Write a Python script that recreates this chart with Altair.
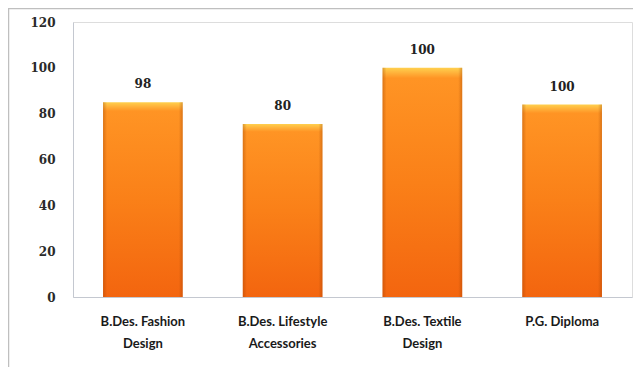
import altair as alt
import pandas as pd

categories = ["B.Des. Fashion Design", "B.Des. Lifestyle Accessories", "B.Des. Textile Design", "P.G. Diploma"]
label_line1 = ["B.Des. Fashion", "B.Des. Lifestyle", "B.Des. Textile", "P.G. Diploma"]
label_line2 = ["Design", "Accessories", "Design", ""]
bar_values = [85, 75.5, 100, 84]
value_labels = ["98", "80", "100", "100"]
y_ticks = [0, 20, 40, 60, 80, 100, 120]

df = pd.DataFrame({"course": categories, "value": bar_values, "label": value_labels})

parts = []
for c, l1, l2 in zip(categories, label_line1, label_line2):
    arr = f"['{l1}', '{l2}']" if l2 else f"'{l1}'"
    parts.append(f"datum.label == '{c}' ? {arr} : ")
label_expr = "".join(parts) + "datum.label"

x = alt.X("course:N", sort=categories, title=None,
          scale=alt.Scale(paddingInner=0.43, paddingOuter=0.215),
          axis=alt.Axis(labelAngle=0, labelExpr=label_expr, ticks=False, labelPadding=18,
                        labelFont="Lato", labelFontSize=13, labelFontWeight="bold",
                        labelColor="#1a1a1a", labelLineHeight=22,
                        domainColor="#c4c8d0"))
y = alt.Y("value:Q", title=None,
          scale=alt.Scale(domain=[0, 120]),
          axis=alt.Axis(values=y_ticks, grid=False, ticks=False, labelPadding=18,
                        labelFont="DejaVu Serif", labelFontSize=12, labelFontWeight="bold",
                        labelColor="#2a2a2a", labelFlush=False, domainColor="#c4c8d0"))

vgrad = alt.Gradient(gradient="linear", x1=0, y1=0, x2=0, y2=1, stops=[
    alt.GradientStop(offset=0, color="#FFD04E"),
    alt.GradientStop(offset=0.025, color="#FFAE38"),
    alt.GradientStop(offset=0.045, color="#FF9424"),
    alt.GradientStop(offset=0.5, color="#FA8018"),
    alt.GradientStop(offset=1, color="#F3650F"),
])
hgrad = alt.Gradient(gradient="linear", x1=0, y1=0, x2=1, y2=0, stops=[
    alt.GradientStop(offset=0, color="rgba(150,60,0,0.35)"),
    alt.GradientStop(offset=0.05, color="rgba(150,60,0,0)"),
    alt.GradientStop(offset=0.95, color="rgba(150,60,0,0)"),
    alt.GradientStop(offset=1, color="rgba(150,60,0,0.35)"),
])

base = alt.Chart(df)
bars = base.mark_bar(color=vgrad).encode(x=x, y=y)
edges = base.mark_bar(color=hgrad).encode(x=x, y=y)
texts = base.mark_text(baseline="bottom", dy=-11, font="DejaVu Serif", fontSize=12,
                       fontWeight="bold", color="#222222").encode(x=x, y=y, text="label:N")

frame = alt.Chart(pd.DataFrame({"a": [0]})).mark_rect(fill=None, stroke="#bfbfbf", strokeWidth=1.5).encode(
    x=alt.value(-64.5), x2=alt.value(640), y=alt.value(-13.5), y2=alt.value(351))

chart = alt.layer(frame, bars, edges, texts).properties(
    width=559, height=275,
    autosize=alt.AutoSizeParams(type="none"),
    padding={"left": 65, "top": 14, "right": 1, "bottom": 70},
).configure_view(stroke=None).configure(background="white")

chart.save("out.html", embed_options={"renderer": "svg", "actions": False})
